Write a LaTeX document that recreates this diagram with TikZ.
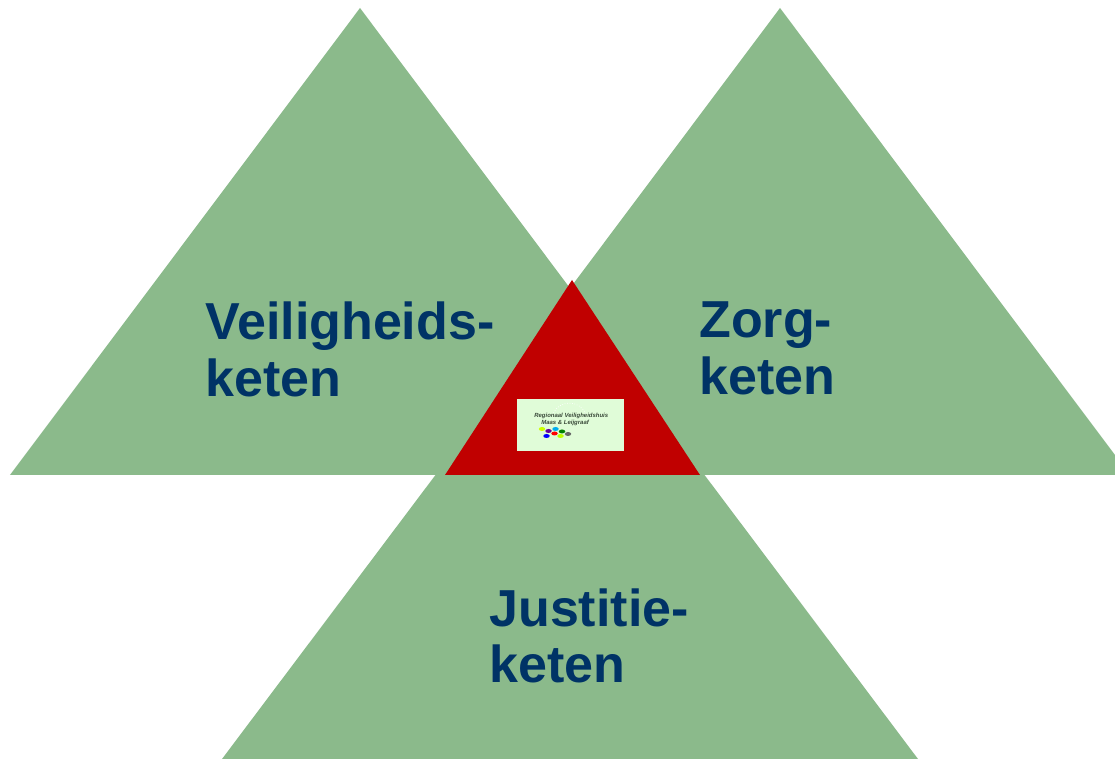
\documentclass[tikz,border=0pt]{standalone}
\usepackage{fontspec}
\setmainfont{Liberation Sans}
\usetikzlibrary{positioning}
\definecolor{ketengreen}{HTML}{8BBA8B}
\definecolor{ketenblue}{HTML}{003366}
\definecolor{kernred}{HTML}{C00000}
\definecolor{logogreen}{HTML}{E0FCD8}
\definecolor{logotext}{HTML}{3A4A3A}
\tikzset{
  ketenlabel/.style={anchor=north west,inner sep=0pt,align=left,text=ketenblue,font=\fontsize{29.6}{32.4}\selectfont\bfseries},
  logolabel/.style={anchor=west,inner sep=0pt,text=logotext,font=\fontsize{3.4}{4}\selectfont\bfseries\itshape},
  logodot/.style={x radius=0.065,y radius=0.04}
}

\begin{document}
\begin{tikzpicture}

\clip (0,0) rectangle (22.3,15.18);

% Chains
\fill[ketengreen] (7.2,15.02) -- (0.2,5.68) -- (14.2,5.68) -- cycle;
\fill[ketengreen] (15.6,15.02) -- (8.6,5.68) -- (22.6,5.68) -- cycle;
\fill[ketengreen] (11.4,9.26) -- (4.44,0) -- (18.36,0) -- cycle;

% Centre
\fill[kernred] (11.44,9.58) -- (8.9,5.68) -- (14,5.68) -- cycle;

\node[ketenlabel] (veiligheid) at (4.1,9.15) {Veiligheids-\\keten};
\node[ketenlabel] (zorg) at (13.98,9.15) {Zorg-\\keten};
\node[ketenlabel] (justitie) at (9.78,3.42) {Justitie-\\keten};

% Logo
\fill[logogreen] (10.34,6.16) rectangle (12.48,7.2);
\draw[white,densely dotted,thin] (11.05,6.88) arc (160:20:0.36);
\node[logolabel] (logotop) at (10.68,6.86) {Regionaal Veiligheidshuis};
\node[logolabel] (logobottom) at (10.82,6.72) {Maas \& Leijgraaf};
\fill[lime!80!yellow] (10.84,6.6) ellipse [logodot];
\fill[violet!80!blue] (10.97,6.56) ellipse [logodot];
\fill[cyan] (11.11,6.6) ellipse [logodot];
\fill[green!50!black] (11.24,6.55) ellipse [logodot];
\fill[gray!80!black] (11.36,6.5) ellipse [logodot];
\fill[red] (11.09,6.51) ellipse [logodot];
\fill[blue] (10.93,6.46) ellipse [logodot];
\fill[lime] (11.21,6.46) ellipse [logodot];

\end{tikzpicture}
\end{document}
